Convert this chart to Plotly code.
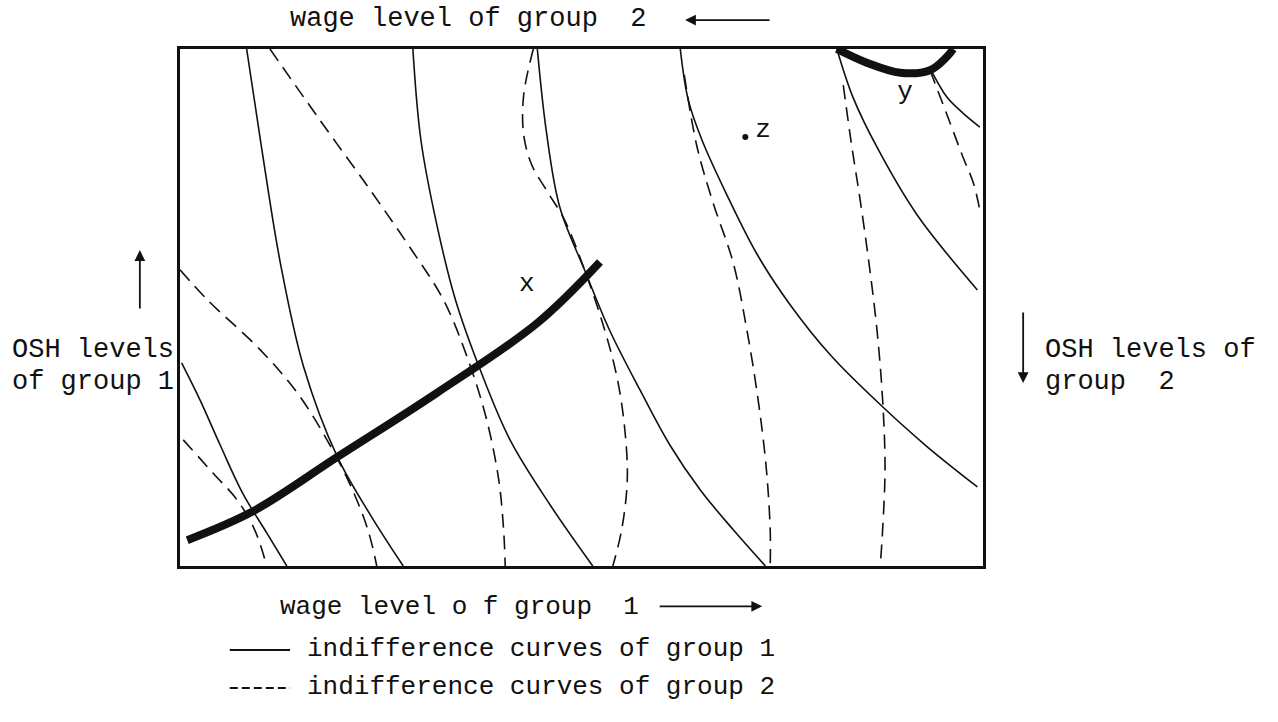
"""
Edgeworth box: wage level vs OSH level for two groups, with indifference
curves of each group and the contract curve (thick line).
Coordinates are in box units: 0-100 on both axes, origin of group 1 at bottom left.
"""
import plotly.graph_objects as go

# indifference curves of group 1 (solid)
S1_X = [0.2, 2.5, 5.0, 7.8, 10.8, 13.3]
S1_Y = [39.3, 32.1, 23.4, 14.1, 6.4, 0]
S2_X = [8.3, 10.2, 12.5, 15.4, 19.6, 23.7, 27.8]
S2_Y = [100, 80.5, 58.6, 38.5, 21.1, 9.9, 0]
S3_X = [29.0, 30.0, 32.0, 34.3, 37.4, 41.1, 46.1, 51.4]
S3_Y = [100, 82.4, 65.9, 51.5, 37.9, 24.4, 11.8, 0]
S4_X = [44.5, 45.6, 47.3, 50.4, 53.5, 57.3, 61.0, 64.8, 68.9, 72.9]
S4_Y = [100, 84.3, 69.4, 57.2, 45.6, 34.0, 23.4, 14.7, 7.0, 0]
S5_X = [62.3, 63.3, 65.0, 68.1, 71.9, 76.0, 81.0, 86.6, 92.8, 99.3]
S5_Y = [100, 90.1, 82.4, 71.8, 60.2, 50.5, 40.8, 32.1, 23.4, 15.3]
S6_X = [81.8, 83.8, 86.8, 91.8, 99.3]
S6_Y = [100, 90.7, 81.0, 67.9, 53.4]
S7_X = [93.4, 95.5, 97.5, 99.6]
S7_Y = [96.3, 90.7, 87.6, 84.9]

# indifference curves of group 2 (dashed)
D1_X = [0.4, 4.1, 7.1, 9.3, 10.8]
D1_Y = [24.4, 18.0, 12.8, 7.0, 0]
D2_X = [0, 3.4, 10.0, 14.6, 18.3, 21.2, 23.4, 24.5]
D2_Y = [57.3, 51.5, 41.8, 33.5, 24.4, 15.7, 7.0, 0]
D3_X = [11.2, 17.4, 23.7, 28.6, 32.8, 35.9, 38.2, 39.7, 40.3, 40.5]
D3_Y = [100, 86.3, 72.7, 61.7, 51.5, 39.8, 28.2, 16.6, 7.0, 0]
D4_X = [44.0, 42.8, 42.8, 43.8, 45.8, 47.9, 50.4, 52.9, 54.5, 55.4, 55.7, 55.0, 53.9]
D4_Y = [100, 91.1, 83.4, 77.6, 72.3, 66.9, 57.2, 45.6, 35.9, 26.3, 16.6, 7.0, 0]
D5_X = [62.8, 64.4, 66.4, 68.9, 70.6, 72.0, 73.0, 73.5, 73.5]
D5_Y = [95.0, 81.0, 70.2, 58.6, 45.6, 32.1, 19.1, 7.0, 0]
D6_X = [82.6, 83.6, 84.7, 85.8, 86.8, 87.5, 87.8, 87.5, 87.2]
D6_Y = [93.0, 81.8, 70.8, 58.6, 45.6, 32.1, 19.1, 7.0, 0]
D7_X = [93.4, 95.9, 97.5, 98.8, 99.6]
D7_Y = [95.9, 85.7, 79.1, 74.1, 68.9]

# contract curve pieces (thick)
CC_X = [0.9, 9.1, 19.6, 32.0, 44.5, 52.3]
CC_Y = [5.0, 10.6, 21.1, 33.5, 47.0, 58.8]
CC2_X = [81.8, 85.6, 89.7, 93.4, 95.5, 96.3]
CC2_Y = [100, 97.3, 95.4, 95.9, 98.5, 100]

# labelled points
POINT_LABELS = ["x", "y", "z"]
POINT_X = [43.2, 90.3, 72.6]
POINT_Y = [54.4, 91.5, 84.3]
Z_DOT = (70.4, 83.0)

SOLID = [(S1_X, S1_Y), (S2_X, S2_Y), (S3_X, S3_Y), (S4_X, S4_Y),
         (S5_X, S5_Y), (S6_X, S6_Y), (S7_X, S7_Y)]
DASHED = [(D1_X, D1_Y), (D2_X, D2_Y), (D3_X, D3_Y), (D4_X, D4_Y),
          (D5_X, D5_Y), (D6_X, D6_Y), (D7_X, D7_Y)]

FONT = "Liberation Mono, Courier New, monospace"
INK = "#111111"

fig = go.Figure()

for xs, ys in SOLID:
    fig.add_trace(go.Scatter(x=xs, y=ys, mode="lines", line_shape="spline",
                             line=dict(color=INK, width=1.6),
                             showlegend=False, hoverinfo="skip"))

for xs, ys in DASHED:
    fig.add_trace(go.Scatter(x=xs, y=ys, mode="lines", line_shape="spline",
                             line=dict(color=INK, width=1.6, dash="14px,8px"),
                             showlegend=False, hoverinfo="skip"))

for xs, ys in [(CC_X, CC_Y), (CC2_X, CC2_Y)]:
    fig.add_trace(go.Scatter(x=xs, y=ys, mode="lines", line_shape="spline",
                             line=dict(color=INK, width=8),
                             showlegend=False, hoverinfo="skip"))

fig.add_trace(go.Scatter(x=[Z_DOT[0]], y=[Z_DOT[1]], mode="markers",
                         marker=dict(color=INK, size=6),
                         showlegend=False, hoverinfo="skip"))

fig.add_trace(go.Scatter(x=POINT_X, y=POINT_Y, mode="text", text=POINT_LABELS,
                         textfont=dict(family=FONT, size=26, color=INK),
                         showlegend=False, hoverinfo="skip"))

NB = "\u00a0"


def label(text, x, y, size=27, xanchor="left"):
    fig.add_annotation(text=text, x=x, y=y, xref="paper", yref="paper",
                       xanchor=xanchor, yanchor="middle", showarrow=False,
                       font=dict(family=FONT, size=size, color=INK))


def arrow(x, y, ax, ay):
    fig.add_annotation(text="", x=x, y=y, xref="paper", yref="paper",
                       ax=ax, ay=ay, showarrow=True, arrowhead=2,
                       arrowsize=1.2, arrowwidth=1.8, arrowcolor=INK)


# axis captions around the box
label(f"wage level of group {NB}2", 0.134, 1.058)
arrow(0.629, 1.056, 86, 0)
label(f"wage level o f group {NB}1", 0.122, -0.080, size=26)
arrow(0.725, -0.078, -104, 0)
label("OSH levels", -0.212, 0.418)
label("of group 1", -0.212, 0.356)
arrow(-0.050, 0.611, 0, 60)
label("OSH levels of", 1.075, 0.418)
label(f"group {NB}2", 1.075, 0.356)
arrow(1.050, 0.354, 0, -72)

# legend drawn by hand, as in the original
fig.add_shape(type="line", xref="paper", yref="paper", x0=0.062, x1=0.137,
              y0=-0.1625, y1=-0.1625, line=dict(color=INK, width=1.8))
fig.add_shape(type="line", xref="paper", yref="paper", x0=0.062, x1=0.137,
              y0=-0.236, y1=-0.236, line=dict(color=INK, width=1.8, dash="8px,4px"))
label("indifference curves of group 1", 0.156, -0.160, size=26)
label("indifference curves of group 2", 0.156, -0.234, size=26)

fig.update_xaxes(range=[0, 100], showgrid=False, zeroline=False,
                 showticklabels=False, ticks="", showline=True, mirror=True,
                 linecolor=INK, linewidth=2.5)
fig.update_yaxes(range=[0, 100], showgrid=False, zeroline=False,
                 showticklabels=False, ticks="", showline=True, mirror=True,
                 linecolor=INK, linewidth=2.5)

fig.update_layout(
    width=1278, height=722,
    margin=dict(l=180, r=295, t=49, b=156),
    paper_bgcolor="white", plot_bgcolor="white",
    showlegend=False,
)

# drop the page's default body margin so the figure sits at the window corner
fig.write_html("out.html",
               config={"displayModeBar": False},
               post_script="document.body.style.margin='0';"
                           "document.body.style.overflow='hidden';")
